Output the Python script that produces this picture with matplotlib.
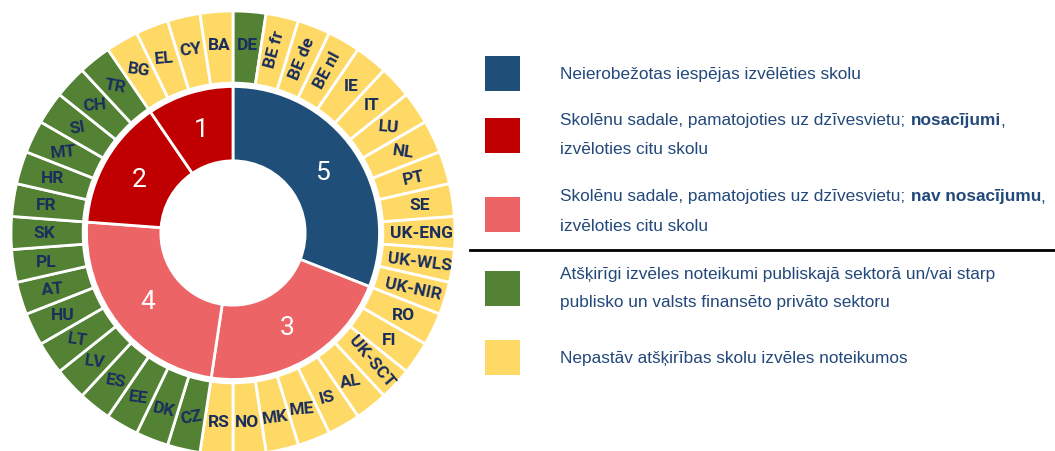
import matplotlib.pyplot as plt
from matplotlib.patches import Rectangle
import numpy as np

plt.rcParams['font.family'] = ['Roboto', 'DejaVu Sans']

# outer ring: countries clockwise from the top, with their status
countries = ['DE', 'BE fr', 'BE de', 'BE nl', 'IE', 'IT', 'LU', 'NL', 'PT', 'SE',
             'UK-ENG', 'UK-WLS', 'UK-NIR', 'RO', 'FI', 'UK-SCT', 'AL', 'IS', 'ME',
             'MK', 'NO', 'RS', 'CZ', 'DK', 'EE', 'ES', 'LV', 'LT', 'HU', 'AT', 'PL',
             'SK', 'FR', 'HR', 'MT', 'SI', 'CH', 'TR', 'BG', 'EL', 'CY', 'BA']
status = ['G', 'Y', 'Y', 'Y', 'Y', 'Y', 'Y', 'Y', 'Y', 'Y',
          'Y', 'Y', 'Y', 'Y', 'Y', 'Y', 'Y', 'Y', 'Y',
          'Y', 'Y', 'Y', 'G', 'G', 'G', 'G', 'G', 'G', 'G', 'G', 'G',
          'G', 'G', 'G', 'G', 'G', 'G', 'G', 'Y', 'Y', 'Y', 'Y']

# inner ring: categories and number of countries in each
group_labels = ['5', '3', '4', '2', '1']
group_counts = [13, 9, 10, 6, 4]
group_keys = ['blue', 'pink', 'pink', 'red', 'red']

colors = {'blue': '#1f4e79', 'red': '#c00000', 'pink': '#ec6466',
          'G': '#548235', 'Y': '#ffd966'}

# label tilt (style only)
label_rot = {'BE fr': 75, 'BE de': 68, 'BE nl': 62, 'LU': -5, 'NL': -8, 'PT': 12,
             'UK-WLS': -7, 'UK-NIR': -12, 'UK-SCT': -50, 'AL': 10, 'IS': 15,
             'ME': 5, 'MK': 8, 'CZ': 10, 'DK': -12, 'EE': -8, 'ES': -10, 'LV': -8,
             'LT': -8, 'AT': 5, 'MT': 5, 'SI': 10, 'CH': 5, 'TR': -10, 'BG': -8,
             'EL': 5, 'CY': 8}

legend_rows = [
    ('blue', [[('Neierobežotas iespējas izvēlēties skolu', 'normal')]]),
    ('red', [[('Skolēnu sadale, pamatojoties uz dzīvesvietu; ', 'normal'),
              ('nosacījumi', 'bold'), (',', 'normal')],
             [('izvēloties citu skolu', 'normal')]]),
    ('pink', [[('Skolēnu sadale, pamatojoties uz dzīvesvietu; ', 'normal'),
               ('nav nosacījumu', 'bold'), (',', 'normal')],
              [('izvēloties citu skolu', 'normal')]]),
    ('G', [[('Atšķirīgi izvēles noteikumi publiskajā sektorā un/vai starp', 'normal')],
           [('publisko un valsts finansēto privāto sektoru', 'normal')]]),
    ('Y', [[('Nepastāv atšķirības skolu izvēles noteikumos', 'normal')]]),
]

W, H = 1055, 452
fig = plt.figure(figsize=(W / 100, H / 100), dpi=100)

cx, cy, R = 233, 234, 222
ax = fig.add_axes([(cx - R) / W, (H - cy - R) / H, 2 * R / W, 2 * R / H])

wedges, _ = ax.pie([1] * len(countries), radius=1.0, startangle=90, counterclock=False,
                   colors=[colors[s] for s in status],
                   wedgeprops=dict(width=0.325, edgecolor='white', linewidth=2))
for w, name in zip(wedges, countries):
    mid = np.deg2rad((w.theta1 + w.theta2) / 2)
    ax.text(0.85 * np.cos(mid), 0.85 * np.sin(mid), name, ha='center', va='center',
            rotation=label_rot.get(name, 0), fontsize=12.5, fontweight='bold',
            color='#1a2e5c')

iw, _ = ax.pie(group_counts, radius=0.66, startangle=90, counterclock=False,
               colors=[colors[k] for k in group_keys],
               wedgeprops=dict(width=0.335, edgecolor='white', linewidth=2))
for w, lab in zip(iw, group_labels):
    mid = np.deg2rad((w.theta1 + w.theta2) / 2)
    ax.text(0.49 * np.cos(mid), 0.49 * np.sin(mid), lab, ha='center', va='center',
            fontsize=19, color='white')

ax.set_xlim(-1, 1)
ax.set_ylim(-1, 1)
ax.set_aspect('equal')
ax.axis('off')

# legend
renderer = fig.canvas.get_renderer()
box_y = [57, 119, 198, 272, 341]
line_y = [[74], [121, 150], [197, 227], [274, 302], [359]]
for (key, lines), by, ly in zip(legend_rows, box_y, line_y):
    fig.patches.append(Rectangle((485 / W, 1 - (by + 35) / H), 35 / W, 35 / H,
                                 transform=fig.transFigure, facecolor=colors[key],
                                 edgecolor='none'))
    for parts, y in zip(lines, ly):
        x = 560 / W
        for txt, wt in parts:
            t = fig.text(x, 1 - y / H, txt, fontsize=12.4, fontweight=wt,
                         family=['Liberation Sans', 'DejaVu Sans'],
                         color='#23487a', ha='left', va='center')
            bb = t.get_window_extent(renderer)
            if txt.endswith(' '):
                x = (bb.x1 + 1) / W
            else:
                x = (bb.x1 - 1) / W

fig.add_artist(plt.Line2D([470 / W, 1], [1 - 251 / H] * 2, color='black', linewidth=2,
                          transform=fig.transFigure))

fig.savefig('out.png', dpi=100)
